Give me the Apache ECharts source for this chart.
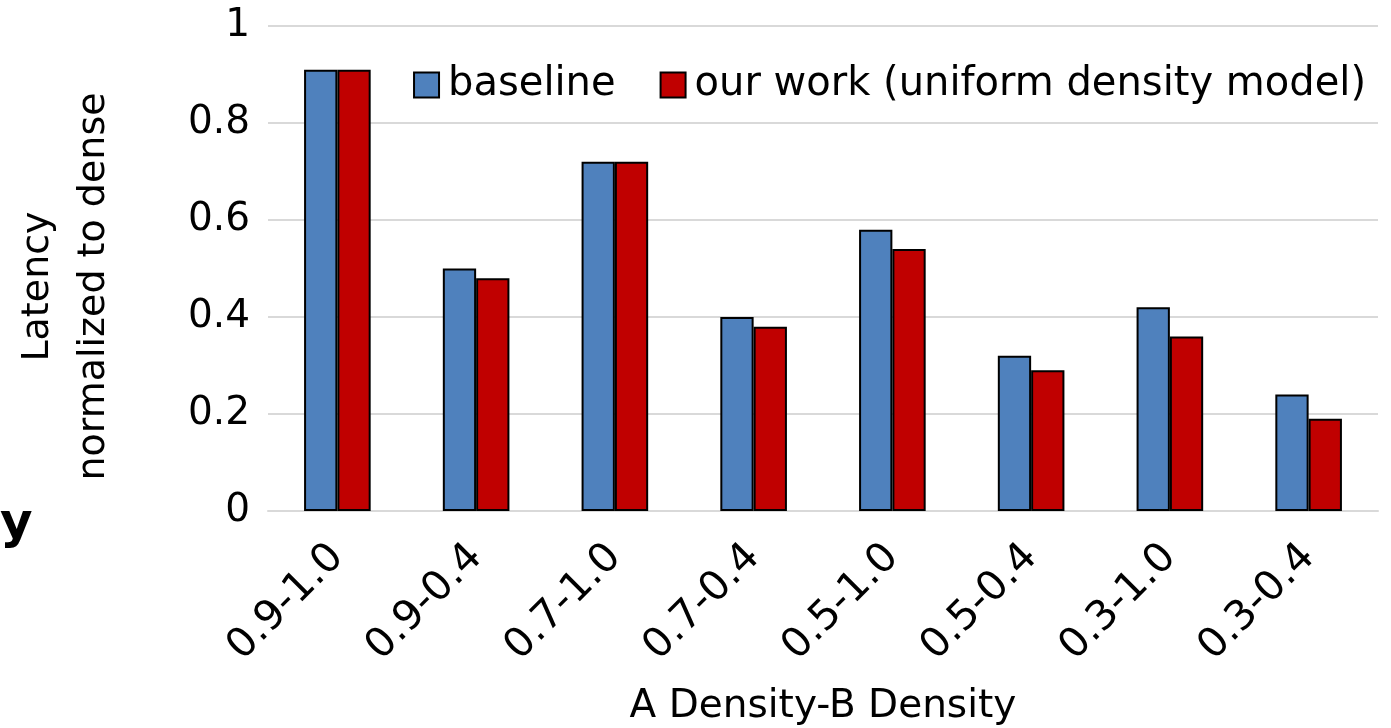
<!DOCTYPE html>
<html>
<head>
<meta charset="utf-8">
<script src="https://cdn.jsdelivr.net/npm/echarts@6/dist/echarts.min.js"></script>
<style>
  html, body { margin: 0; padding: 0; background: #fff; }
  #chart { width: 1391px; height: 728px; }
</style>
</head>
<body>
<div id="chart"></div>
<script>
  var categories = ['0.9-1.0', '0.9-0.4', '0.7-1.0', '0.7-0.4', '0.5-1.0', '0.5-0.4', '0.3-1.0', '0.3-0.4'];
  var baseline = [0.91, 0.50, 0.72, 0.40, 0.58, 0.32, 0.42, 0.24];
  var ourWork = [0.91, 0.48, 0.72, 0.38, 0.54, 0.29, 0.36, 0.19];
  var seriesNames = ['baseline', 'our work (uniform density model)'];

  var font = 'Tahoma, "DejaVu Sans", sans-serif';

  var chart = echarts.init(document.getElementById('chart'));
  var option = {
    animation: false,
    grid: {
      left: 268,
      right: 13,
      top: 26,
      bottom: 217,
      containLabel: false,
      outerBoundsMode: 'none'
    },
    legend: {
      right: 20,
      top: 60,
      icon: 'rect',
      itemWidth: 25,
      itemHeight: 25,
      itemGap: 44,
      itemStyle: { borderColor: '#000', borderWidth: 2 },
      textStyle: {
        fontFamily: font,
        fontSize: 40,
        color: '#000',
        padding: [0, 0, 0, 4]
      },
      data: seriesNames
    },
    xAxis: {
      type: 'category',
      data: categories,
      name: 'A Density-B Density',
      nameLocation: 'middle',
      nameGap: 176,
      nameTextStyle: {
        fontFamily: font,
        fontSize: 39,
        color: '#000'
      },
      axisLine: { lineStyle: { color: '#d9d9d9', width: 2 } },
      axisTick: { show: false },
      axisLabel: {
        rotate: 45,
        margin: 40,
        fontFamily: font,
        fontSize: 41,
        color: '#000'
      }
    },
    yAxis: {
      type: 'value',
      min: 0,
      max: 1,
      interval: 0.2,
      name: 'Latency\nnormalized to dense',
      nameLocation: 'middle',
      nameGap: 146,
      nameTextStyle: {
        fontFamily: font,
        fontSize: 38,
        color: '#000',
        lineHeight: 56,
        padding: [0, 36, 0, 0]
      },
      axisLine: { show: false },
      axisTick: { show: false },
      splitLine: { lineStyle: { color: '#d9d9d9', width: 2 } },
      axisLabel: {
        margin: 18,
        fontFamily: font,
        fontSize: 39,
        color: '#000',
        formatter: function (v) { return v === 0 || v === 1 ? String(v) : v.toFixed(1); }
      }
    },
    series: [
      {
        name: seriesNames[0],
        type: 'bar',
        data: baseline,
        barGap: '0%',
        barCategoryGap: '52%',
        itemStyle: { color: '#4F81BD', borderColor: '#000', borderWidth: 2 }
      },
      {
        name: seriesNames[1],
        type: 'bar',
        data: ourWork,
        itemStyle: { color: '#C00000', borderColor: '#000', borderWidth: 2 }
      }
    ],
    graphic: [
      {
        type: 'text',
        left: 0,
        top: 500,
        style: {
          text: 'y',
          fontFamily: '"DejaVu Sans", sans-serif',
          fontWeight: 'bold',
          fontSize: 50,
          fill: '#000'
        }
      }
    ]
  };
  chart.setOption(option);
</script>
</body>
</html>
